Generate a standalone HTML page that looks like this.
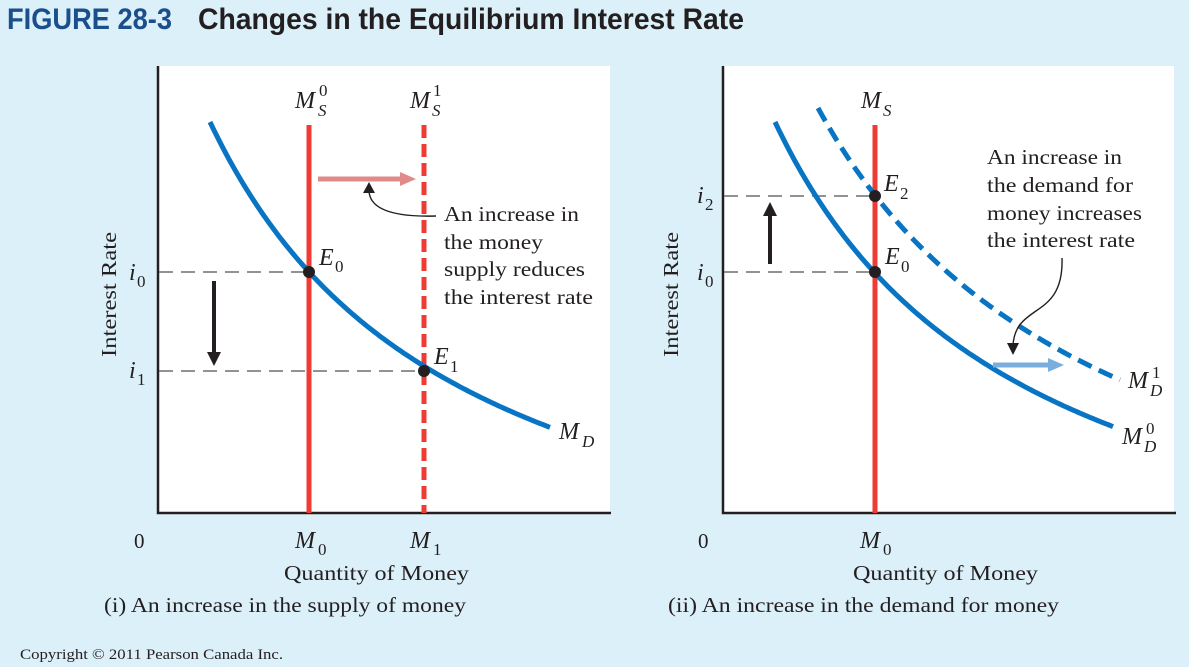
<!DOCTYPE html>
<html><head><meta charset="utf-8"><style>
html,body{margin:0;padding:0;background:#dcf0f9;}
svg{display:block}
.t{font-family:"Liberation Serif",serif;fill:#231f20}
.it{font-style:italic}
</style></head><body>
<svg id="s" width="1189" height="667" viewBox="0 0 1189 667" xmlns="http://www.w3.org/2000/svg">
<rect width="1189" height="667" fill="#dcf0f9"/>
<text x="7" y="29" font-family="'Liberation Sans Narrow','Liberation Sans',sans-serif" font-weight="bold" font-size="30" fill="#1b4f8c" textLength="165" lengthAdjust="spacingAndGlyphs">FIGURE 28-3</text>
<text x="198" y="29" font-family="'Liberation Sans Narrow','Liberation Sans',sans-serif" font-weight="bold" font-size="30" fill="#231f20" textLength="546" lengthAdjust="spacingAndGlyphs">Changes in the Equilibrium Interest Rate</text>

<rect x="158" y="66" width="452" height="447" fill="#fff"/>
<rect x="723" y="66" width="451" height="447" fill="#fff"/>

<g stroke="#231f20" stroke-width="2.5" fill="none">
<path d="M158,66 V513 H611"/>
<path d="M723,66 V513 H1176"/>
</g>

<g stroke="#6d6e71" stroke-width="1.4" stroke-dasharray="14,8" fill="none">
<path d="M159,272 H309"/><path d="M159,371 H424"/>
<path d="M724,196 H875"/><path d="M724,272 H875"/>
</g>

<g stroke="#ef3b33" stroke-width="5" fill="none">
<path d="M309,125 V513"/>
<path d="M424,125 V513" stroke-dasharray="13,6"/>
<path d="M875,125 V513"/>
</g>

<g id="curves" stroke="#0874c4" stroke-width="5" fill="none"></g>

<g fill="#231f20" stroke="#231f20">
<path d="M214,281 V352" stroke-width="4"/><path d="M207,352 L221,352 L214,366Z" stroke="none"/>
<path d="M770,264 V216" stroke-width="4"/><path d="M763,216 L777,216 L770,202Z" stroke="none"/>
</g>
<path d="M318,179 H402" stroke="#e08a8a" stroke-width="5"/><path d="M400,172 L416,179 L400,186Z" fill="#e08a8a"/>
<path d="M993,365 H1050" stroke="#7aaede" stroke-width="5"/><path d="M1048,358 L1064,365 L1048,372Z" fill="#7aaede"/>

<path d="M436,216 C400,217 370,212 369,191" stroke="#231f20" stroke-width="1.4" fill="none"/>
<path d="M363,193 L369,182 L375,193Z" fill="#231f20"/>
<path d="M1062,258 C1064,320 1016,302 1013,345" stroke="#231f20" stroke-width="1.4" fill="none"/>
<path d="M1007,343 L1013,355 L1019,343Z" fill="#231f20"/>

<g fill="#231f20"><circle cx="309" cy="272" r="6"/><circle cx="424" cy="371" r="6"/><circle cx="875" cy="272" r="6"/><circle cx="875" cy="196" r="6"/></g>

<g class="t" font-size="24">
<text x="295" y="108" class="it">M</text><text x="318" y="116" font-size="17" class="it">S</text><text x="319" y="96" font-size="17">0</text>
<text x="410" y="108" class="it">M</text><text x="432" y="116" font-size="17" class="it">S</text><text x="433" y="96" font-size="17">1</text>
<text x="861" y="108" class="it">M</text><text x="883" y="116" font-size="17" class="it">S</text>
<text x="319" y="265" class="it">E</text><text x="335" y="272" font-size="17">0</text>
<text x="434" y="364" class="it">E</text><text x="450" y="372" font-size="17">1</text>
<text x="884" y="191" class="it">E</text><text x="900" y="199" font-size="17">2</text>
<text x="885" y="264" class="it">E</text><text x="901" y="272" font-size="17">0</text>
<text x="559" y="439" class="it">M</text><text x="582" y="447" font-size="17" class="it">D</text>
<text x="1128" y="388" class="it">M</text><text x="1150" y="396" font-size="17" class="it">D</text><text x="1152" y="378" font-size="17">1</text>
<text x="1122" y="444" class="it">M</text><text x="1144" y="452" font-size="17" class="it">D</text><text x="1146" y="434" font-size="17">0</text>
<text x="129" y="280" class="it">i</text><text x="137" y="287" font-size="17">0</text>
<text x="129" y="378" class="it">i</text><text x="137" y="385" font-size="17">1</text>
<text x="697" y="203" class="it">i</text><text x="705" y="210" font-size="17">2</text>
<text x="697" y="280" class="it">i</text><text x="705" y="287" font-size="17">0</text>
<text x="134" y="548" font-size="21">0</text><text x="698" y="548" font-size="21">0</text>
<text x="295" y="548" class="it">M</text><text x="318" y="555" font-size="17">0</text>
<text x="410" y="548" class="it">M</text><text x="433" y="555" font-size="17">1</text>
<text x="860" y="548" class="it">M</text><text x="883" y="555" font-size="17">0</text>
</g>
<g class="t" font-size="21">
<text x="444" y="221" textLength="135" lengthAdjust="spacingAndGlyphs">An increase in</text>
<text x="444" y="249" textLength="99" lengthAdjust="spacingAndGlyphs">the money</text>
<text x="444" y="276" textLength="141" lengthAdjust="spacingAndGlyphs">supply reduces</text>
<text x="444" y="304" textLength="149" lengthAdjust="spacingAndGlyphs">the interest rate</text>
<text x="987" y="164" textLength="135" lengthAdjust="spacingAndGlyphs">An increase in</text>
<text x="987" y="192" textLength="146" lengthAdjust="spacingAndGlyphs">the demand for</text>
<text x="987" y="220" textLength="155" lengthAdjust="spacingAndGlyphs">money increases</text>
<text x="987" y="247" textLength="148" lengthAdjust="spacingAndGlyphs">the interest rate</text>
<text x="284" y="580" textLength="185" lengthAdjust="spacingAndGlyphs">Quantity of Money</text>
<text x="853" y="580" textLength="185" lengthAdjust="spacingAndGlyphs">Quantity of Money</text>
<text x="104" y="612" textLength="362" lengthAdjust="spacingAndGlyphs">(i) An increase in the supply of money</text>
<text x="668" y="612" textLength="391" lengthAdjust="spacingAndGlyphs">(ii) An increase in the demand for money</text>
<text transform="translate(116,357) rotate(-90)" textLength="125" lengthAdjust="spacingAndGlyphs">Interest Rate</text>
<text transform="translate(678,357) rotate(-90)" textLength="125" lengthAdjust="spacingAndGlyphs">Interest Rate</text>
</g>
<text x="20" y="659" font-family="'Liberation Serif',serif" font-size="15" fill="#231f20" textLength="263" lengthAdjust="spacingAndGlyphs">Copyright © 2011 Pearson Canada Inc.</text>
</svg>
<script>
function curve(x0,x1,A,B,c,dx){var d="";for(var x=x0;x<=x1;x+=2){var y=A-B/(x-c);d+=(d?"L":"M")+(x+dx).toFixed(1)+","+y.toFixed(1);}return d;}
var g=document.getElementById("curves"),ns="http://www.w3.org/2000/svg";
function add(d,dash){var p=document.createElementNS(ns,"path");p.setAttribute("d",d);if(dash)p.setAttribute("stroke-dasharray",dash);g.appendChild(p);}
add(curve(210,550,653.7,134000,-42,0));
add(curve(210,548,653.7,134000,-42,565));
add(curve(253,555,643.8,157000,-40,565),"15,8");
</script>
</body></html>
